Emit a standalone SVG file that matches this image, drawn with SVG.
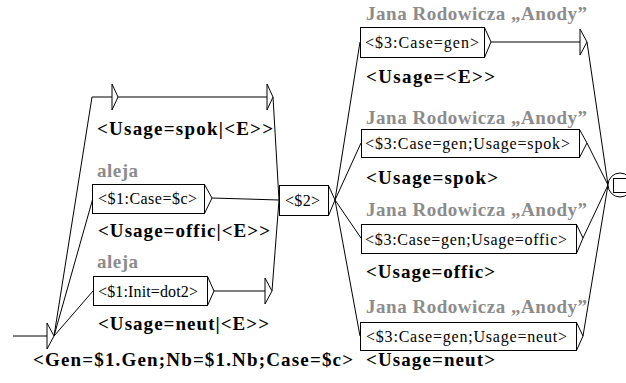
<svg xmlns="http://www.w3.org/2000/svg" width="626" height="383" viewBox="0 0 626 383">
<style>
.bx{fill:#fff;stroke:#000;stroke-width:1}
.ln{fill:none;stroke:#000;stroke-width:1}
.tri{fill:#fff;stroke:#000;stroke-width:1}
.in{font-family:"Liberation Serif","Times New Roman",serif;font-size:16px;fill:#000}
.out{font-family:"Liberation Serif","Times New Roman",serif;font-size:19px;font-weight:bold;fill:#000}
.lab{font-family:"Liberation Serif","Times New Roman",serif;font-size:19px;font-weight:bold;fill:#8c8c8c}
</style>
<rect width="626" height="383" fill="#fff"/>
<g id="connectors" class="ln">
<line x1="13" y1="336" x2="47" y2="336"/>
<line x1="54" y1="336" x2="92" y2="97"/>
<line x1="54" y1="336" x2="93" y2="198"/>
<line x1="54" y1="336" x2="93" y2="291"/>
<line x1="273" y1="97" x2="279" y2="200"/>
<line x1="212" y1="198" x2="279" y2="200"/>
<line x1="272" y1="291" x2="279" y2="200"/>
<line x1="335" y1="200" x2="360" y2="42"/>
<line x1="335" y1="200" x2="361" y2="143"/>
<line x1="335" y1="200" x2="361" y2="238"/>
<line x1="335" y1="200" x2="360" y2="336"/>
<line x1="587" y1="42" x2="608" y2="185"/>
<line x1="587" y1="143" x2="608" y2="185"/>
<line x1="583" y1="238" x2="608" y2="185"/>
<line x1="583" y1="336" x2="608" y2="185"/>
</g>
<g id="initial">
<polygon class="tri" points="47,323 54,336 47,349"/>
</g>
<g id="eps-spok">
<polyline class="ln" points="92,97 112,97"/>
<polygon class="tri" points="112,84 118,97 112,110"/>
<line class="ln" x1="118" y1="97" x2="267" y2="97"/>
<polygon class="tri" points="267,84 273,97 267,110"/>
<text class="out" x="97" y="135" textLength="176" lengthAdjust="spacing">&lt;Usage=spok|&lt;E&gt;&gt;</text>
</g>
<g id="box-case">
<text class="lab" x="97" y="177" textLength="41" lengthAdjust="spacing">aleja</text>
<rect class="bx" x="92.5" y="184.5" width="112" height="29"/>
<polyline class="ln" points="204.5,184.5 212,198 204.5,213.5"/>
<text class="in" x="98" y="204" textLength="99" lengthAdjust="spacing">&lt;$1:Case=$c&gt;</text>
<text class="out" x="98" y="237" textLength="172" lengthAdjust="spacing">&lt;Usage=offic|&lt;E&gt;&gt;</text>
</g>
<g id="box-init">
<text class="lab" x="97" y="268" textLength="41" lengthAdjust="spacing">aleja</text>
<rect class="bx" x="93.5" y="276.5" width="114" height="29"/>
<polyline class="ln" points="207.5,276.5 214,291 207.5,305.5"/>
<line class="ln" x1="214" y1="291" x2="265" y2="291"/>
<polygon class="tri" points="265,278 272,291 265,304"/>
<text class="in" x="98" y="297" textLength="100" lengthAdjust="spacing">&lt;$1:Init=dot2&gt;</text>
<text class="out" x="98" y="330" textLength="171" lengthAdjust="spacing">&lt;Usage=neut|&lt;E&gt;&gt;</text>
</g>
<g id="gen-output">
<text class="out" x="33" y="366" textLength="320" lengthAdjust="spacing">&lt;Gen=$1.Gen;Nb=$1.Nb;Case=$c&gt;</text>
</g>
<g id="box-2">
<rect class="bx" x="279.5" y="185.5" width="49" height="30"/>
<polyline class="ln" points="328.5,185.5 335,200 328.5,215.5"/>
<text class="in" x="285" y="206" textLength="35" lengthAdjust="spacing">&lt;$2&gt;</text>
</g>
<g id="box-gen">
<text class="lab" x="366" y="20" textLength="221" lengthAdjust="spacing">Jana Rodowicza „Anody”</text>
<rect class="bx" x="360.5" y="27.5" width="124" height="30"/>
<polyline class="ln" points="484.5,27.5 491,42 484.5,57.5"/>
<line class="ln" x1="491" y1="42" x2="580" y2="42"/>
<polygon class="tri" points="580,29 587,42 580,55"/>
<text class="in" x="365" y="48" textLength="114" lengthAdjust="spacing">&lt;$3:Case=gen&gt;</text>
<text class="out" x="366" y="83" textLength="129" lengthAdjust="spacing">&lt;Usage=&lt;E&gt;&gt;</text>
</g>
<g id="box-spok">
<text class="lab" x="366" y="124" textLength="221" lengthAdjust="spacing">Jana Rodowicza „Anody”</text>
<rect class="bx" x="361.5" y="129.5" width="218" height="28"/>
<polyline class="ln" points="579.5,129.5 587,143 579.5,157.5"/>
<text class="in" x="365" y="149" textLength="205" lengthAdjust="spacing">&lt;$3:Case=gen;Usage=spok&gt;</text>
<text class="out" x="366" y="184" textLength="132" lengthAdjust="spacing">&lt;Usage=spok&gt;</text>
</g>
<g id="box-offic">
<text class="lab" x="366" y="216" textLength="221" lengthAdjust="spacing">Jana Rodowicza „Anody”</text>
<rect class="bx" x="361.5" y="224.5" width="215" height="29"/>
<polyline class="ln" points="576.5,224.5 583,238 576.5,253.5"/>
<text class="in" x="365" y="245" textLength="202" lengthAdjust="spacing">&lt;$3:Case=gen;Usage=offic&gt;</text>
<text class="out" x="366" y="278" textLength="129" lengthAdjust="spacing">&lt;Usage=offic&gt;</text>
</g>
<g id="box-neut">
<text class="lab" x="366" y="313" textLength="221" lengthAdjust="spacing">Jana Rodowicza „Anody”</text>
<rect class="bx" x="360.5" y="322.5" width="216" height="28"/>
<polyline class="ln" points="576.5,322.5 583,336 576.5,350.5"/>
<text class="in" x="366" y="342" textLength="201" lengthAdjust="spacing">&lt;$3:Case=gen;Usage=neut&gt;</text>
<text class="out" x="366" y="366" textLength="129" lengthAdjust="spacing">&lt;Usage=neut&gt;</text>
</g>
<g id="final">
<circle class="bx" cx="620" cy="185" r="12"/>
<rect class="bx" x="613.5" y="178.5" width="15" height="14"/>
</g>
</svg>
